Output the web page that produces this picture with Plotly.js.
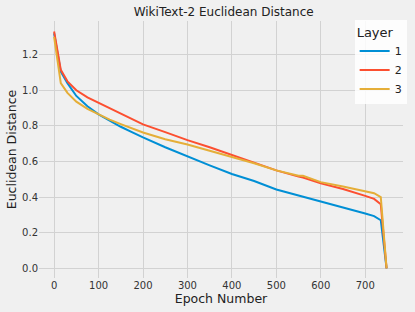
<!DOCTYPE html>
<html>
<head>
<meta charset="utf-8">
<script src="https://cdn.plot.ly/plotly-3.0.1.min.js"></script>
<style>html,body{margin:0;padding:0;background:#f0f0f0;}#chart{width:415px;height:312px;}</style>
</head>
<body>
<div id="chart"></div>
<script>
const epochs = [0, 15, 30, 50, 75, 100, 125, 150, 175, 200, 250, 300, 350, 400, 450, 500, 550, 560, 600, 650, 700, 720, 735, 748];
const layer1 = [1.32, 1.105, 1.04, 0.968, 0.91, 0.865, 0.83, 0.795, 0.765, 0.735, 0.68, 0.628, 0.578, 0.53, 0.49, 0.443, 0.41, 0.403, 0.378, 0.343, 0.308, 0.293, 0.27, 0.0];
const layer2 = [1.33, 1.115, 1.05, 1.0, 0.96, 0.93, 0.9, 0.87, 0.84, 0.808, 0.765, 0.72, 0.68, 0.636, 0.595, 0.55, 0.515, 0.51, 0.477, 0.445, 0.407, 0.39, 0.36, 0.0];
const layer3 = [1.30, 1.04, 0.985, 0.936, 0.895, 0.865, 0.835, 0.81, 0.785, 0.763, 0.725, 0.695, 0.66, 0.627, 0.59, 0.55, 0.52, 0.52, 0.484, 0.46, 0.434, 0.422, 0.40, 0.0];
const names = ['1', '2', '3'];
const colors = ['#008fd5', '#fc4f30', '#e5ae38'];
const series = [layer1, layer2, layer3];

const traces = series.map((ys, i) => ({
  x: epochs, y: ys, type: 'scatter', mode: 'lines', name: names[i],
  line: {color: colors[i], width: 2}
}));

const layout = {
  width: 415, height: 312,
  paper_bgcolor: '#f0f0f0', plot_bgcolor: '#f0f0f0',
  margin: {l: 39, r: 8, t: 21, b: 34},
  font: {family: 'DejaVu Sans', color: '#222', size: 10},
  title: {text: 'WikiText-2 Euclidean Distance', font: {size: 12, color: '#222'}, x: 0.539, xanchor: 'center', y: 0.963, yanchor: 'middle'},
  xaxis: {
    range: [-34, 785], tickvals: [0,100,200,300,400,500,600,700],
    showgrid: true, gridcolor: '#d2d2d2', gridwidth: 1, zeroline: false, showline: false, ticks: '',
    tickfont: {size: 10, color: '#333'},
    title: {text: 'Epoch Number', font: {size: 12.5, color: '#222'}, standoff: 4}
  },
  yaxis: {
    range: [-0.0545, 1.389], tickvals: [0,0.2,0.4,0.6,0.8,1.0,1.2], tickformat: '.1f',
    showgrid: true, gridcolor: '#d2d2d2', gridwidth: 1, zeroline: false, showline: false, ticks: '',
    tickfont: {size: 10, color: '#333'},
    title: {text: 'Euclidean Distance', font: {size: 12.5, color: '#222'}, standoff: 2}
  },
  legend: {
    x: 1.01, xanchor: 'right', y: 1.005, yanchor: 'top',
    bgcolor: 'rgba(255,255,255,0.85)', borderwidth: 0,
    title: {text: 'Layer', font: {size: 13, color: '#222'}, side: 'top'},
    font: {size: 11, color: '#222'},
    itemwidth: 30, tracegroupgap: 0
  },
  showlegend: true
};

Plotly.newPlot('chart', traces, layout, {displayModeBar: false, staticPlot: true});
</script>
</body>
</html>
